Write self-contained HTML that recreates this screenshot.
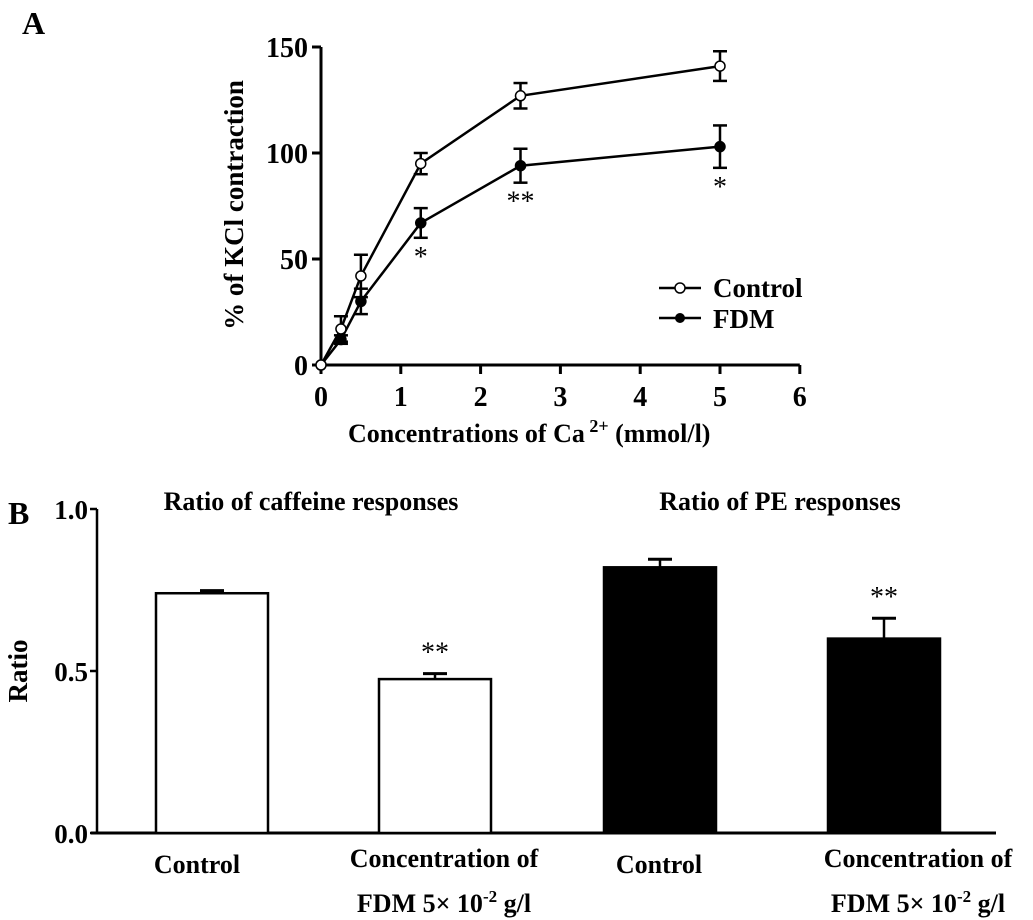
<!DOCTYPE html>
<html><head><meta charset="utf-8">
<style>
body{margin:0;background:#fff;}
svg{display:block;font-family:"Liberation Serif",serif;font-weight:bold;}
</style></head>
<body>
<svg id="fig" width="1033" height="920" viewBox="0 0 1033 920" xmlns="http://www.w3.org/2000/svg">
<text x="22" y="34" font-size="32">A</text>
<text x="8" y="524" font-size="32">B</text>
<g id="pa"></g>
<g id="pb"></g>
</svg>
<script>
const xValsA = [0, 0.25, 0.5, 1.25, 2.5, 5];
const controlVals = [0, 17, 42, 95, 127, 141];
const controlErr = [0, 6, 10, 5, 6, 7];
const fdmVals = [0, 12, 30, 67, 94, 103];
const fdmErr = [0, 2, 6, 7, 8, 10];
const xTicksA = [0,1,2,3,4,5,6];
const yTicksA = [0,50,100,150];
const sigLabelsA = ["", "", "", "*", "**", "*"];

const barCats = ["Control", "FDM", "Control", "FDM"];
const barVals = [0.74, 0.475, 0.82, 0.60];
const barErr = [0.008, 0.017, 0.025, 0.063];
const barSig = ["", "**", "", "**"];
const yTicksB = ["0.0","0.5","1.0"];

const NS="http://www.w3.org/2000/svg";
function mk(p,tag,attrs,txt){const e=document.createElementNS(NS,tag);for(const k in attrs)e.setAttribute(k,attrs[k]);if(txt!==undefined)e.textContent=txt;p.appendChild(e);return e;}

const pa=document.getElementById('pa');
const xA=v=>321+v*79.8, yA=v=>365-v*2.12;
let e;
e=mk(pa,'line',{x1:321,y1:yA(0),x2:321,y2:yA(150),stroke:'#000','stroke-width':3});


e=mk(pa,'line',{x1:321,y1:yA(0),x2:xA(6),y2:yA(0),stroke:'#000','stroke-width':3});


yTicksA.forEach(t=>{
  mk(pa,'line',{x1:312,y1:yA(t),x2:321,y2:yA(t),stroke:'#000','stroke-width':3});
  e=mk(pa,'text',{x:308,y:yA(t)+10,'font-size':28,'text-anchor':'end'},String(t));
  
  
});
xTicksA.forEach(t=>{
  mk(pa,'line',{x1:xA(t),y1:yA(0),x2:xA(t),y2:yA(0)+9,stroke:'#000','stroke-width':3});
  e=mk(pa,'text',{x:xA(t),y:406,'font-size':28,'text-anchor':'middle'},String(t));
  
  
});
e=mk(pa,'text',{x:0,y:0,'font-size':27,'text-anchor':'middle',transform:'translate(243,205) rotate(-90)'},'% of KCl contraction');


e=mk(pa,'text',{x:348,y:442,'font-size':26},'');
e.innerHTML='Concentrations of Ca<tspan dy="-10" font-size="18"> 2+</tspan><tspan dy="10"> (mmol/l)</tspan>';


function series(vals,errs,fill,name){
  const g=mk(pa,'g',{});
  
  
  mk(g,'polyline',{points:xValsA.map((x,i)=>xA(x)+','+yA(vals[i])).join(' '),fill:'none',stroke:'#000','stroke-width':2.5});
  xValsA.forEach((x,i)=>{
    if(errs[i]>0){
      mk(g,'line',{x1:xA(x),y1:yA(vals[i]-errs[i]),x2:xA(x),y2:yA(vals[i]+errs[i]),stroke:'#000','stroke-width':2.5});
      [vals[i]-errs[i],vals[i]+errs[i]].forEach(v=>mk(g,'line',{x1:xA(x)-7,y1:yA(v),x2:xA(x)+7,y2:yA(v),stroke:'#000','stroke-width':2.5}));
    }
    const c=mk(g,'circle',{cx:xA(x),cy:yA(vals[i]),r:5,fill:fill,stroke:'#000','stroke-width':1.5});
    
    
  });
}
series(fdmVals,fdmErr,'#000','fdm');
series(controlVals,controlErr,'#fff','control');
xValsA.forEach((x,i)=>{ if(sigLabelsA[i]){
  e=mk(pa,'text',{x:xA(x),y:yA(fdmVals[i]-fdmErr[i])+28,'font-size':28,'text-anchor':'middle','font-weight':'normal'},sigLabelsA[i]);
  
  
}});
let lg=mk(pa,'g',{});


mk(lg,'line',{x1:659,y1:288,x2:701,y2:288,stroke:'#000','stroke-width':2.5});
mk(lg,'circle',{cx:680,cy:288,r:5,fill:'#fff',stroke:'#000','stroke-width':1.5});
mk(lg,'text',{x:713,y:297,'font-size':27},'Control');
mk(lg,'line',{x1:659,y1:318,x2:701,y2:318,stroke:'#000','stroke-width':2.5});
mk(lg,'circle',{cx:680,cy:318,r:5,fill:'#000'});
mk(lg,'text',{x:713,y:328,'font-size':27},'FDM');

const pb=document.getElementById('pb');
const yB=v=>833-v*324;
const barX=[156,379,604,828], barW=112;
e=mk(pb,'line',{x1:97,y1:yB(0),x2:97,y2:yB(1),stroke:'#000','stroke-width':2.5});


e=mk(pb,'line',{x1:91,y1:yB(0),x2:996,y2:yB(0),stroke:'#000','stroke-width':3});


yTicksB.forEach(t=>{
  mk(pb,'line',{x1:90,y1:yB(+t),x2:97,y2:yB(+t),stroke:'#000','stroke-width':2.5});
  e=mk(pb,'text',{x:88,y:yB(+t)+10,'font-size':27,'text-anchor':'end'},t);
  
  
});
e=mk(pb,'text',{x:0,y:0,'font-size':27,'text-anchor':'middle',transform:'translate(27,671) rotate(-90)'},'Ratio');


barVals.forEach((v,i)=>{
  const fill=i<2?'#fff':'#000';
  const cx=barX[i]+barW/2;
  mk(pb,'line',{x1:cx,y1:yB(v),x2:cx,y2:yB(v+barErr[i]),stroke:'#000','stroke-width':2.5});
  mk(pb,'line',{x1:cx-12,y1:yB(v+barErr[i]),x2:cx+12,y2:yB(v+barErr[i]),stroke:'#000','stroke-width':3});
  const r=mk(pb,'rect',{x:barX[i],y:yB(v),width:barW,height:yB(0)-yB(v),fill:fill,stroke:'#000','stroke-width':2.5});
  
  
  if(barSig[i]){
    e=mk(pb,'text',{x:cx,y:yB(v+barErr[i])-12,'font-size':28,'text-anchor':'middle','font-weight':'normal'},barSig[i]);
    
    
  }
});
[[197,'Control'],[659,'Control']].forEach(([x,t])=>{
  e=mk(pb,'text',{x:x,y:873,'font-size':26,'text-anchor':'middle'},t);
  
  
});
[[444,330],[918,805]].forEach(([cx,lx])=>{
  e=mk(pb,'text',{x:cx,y:867,'font-size':26,'text-anchor':'middle'},'Concentration of');
  
  
  e=mk(pb,'text',{x:cx,y:912,'font-size':26,'text-anchor':'middle'},'');
  e.innerHTML='FDM  5× 10<tspan dy="-10" font-size="17">-2</tspan><tspan dy="10"> g/l</tspan>';
  
  
});
e=mk(pb,'text',{x:311,y:510,'font-size':26,'text-anchor':'middle'},'Ratio of caffeine responses');


e=mk(pb,'text',{x:780,y:510,'font-size':26,'text-anchor':'middle'},'Ratio of PE responses');


</script>
</body></html>
